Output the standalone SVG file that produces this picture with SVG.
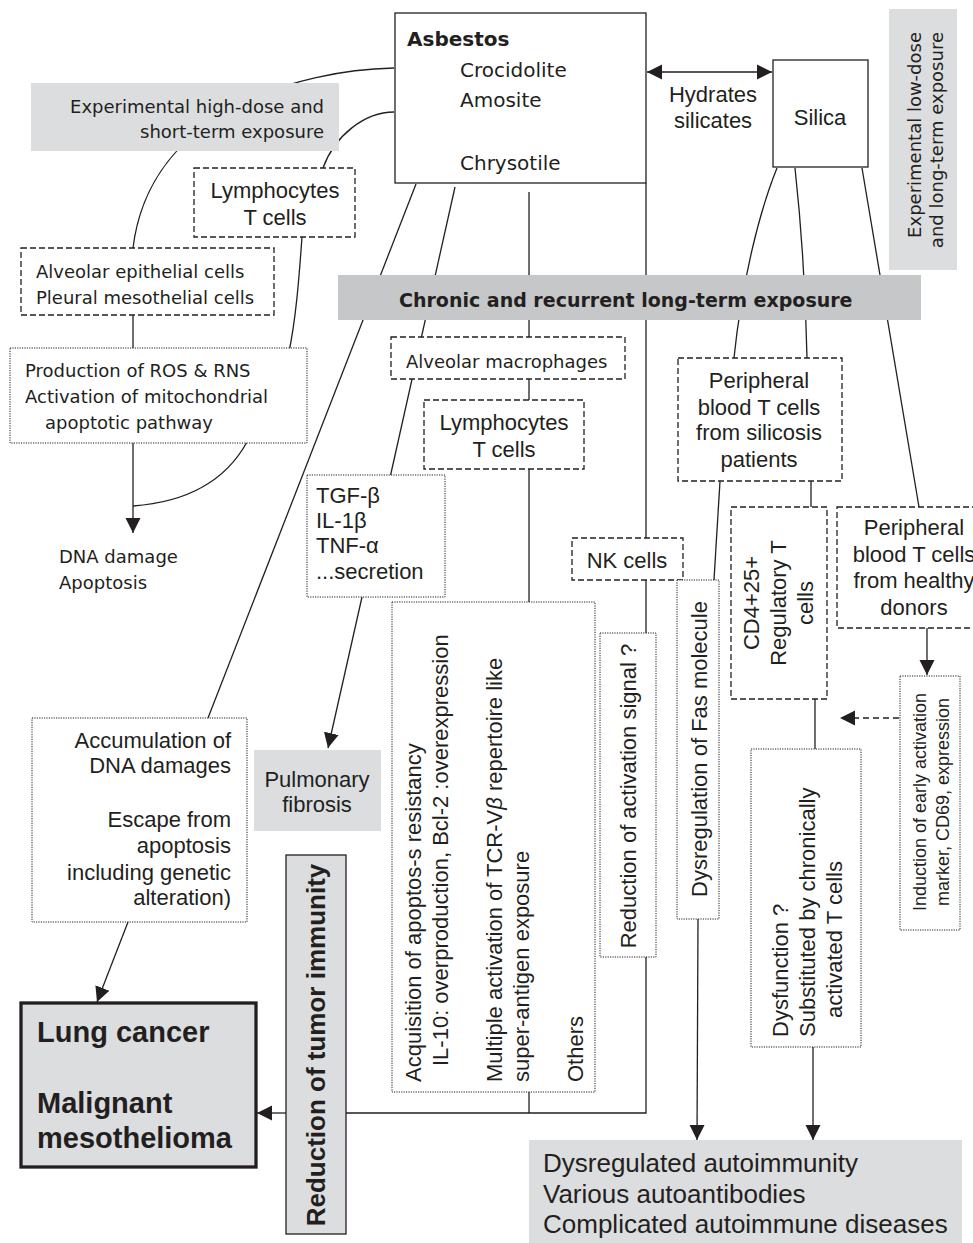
<svg xmlns="http://www.w3.org/2000/svg" width="973" height="1243" viewBox="0 0 973 1243">
<style>
.a{font-family:"Liberation Sans",Arial,sans-serif;font-size:22px;fill:#231f20}
.ab{font-family:"Liberation Sans",Arial,sans-serif;font-weight:bold;fill:#231f20}
.j{font-family:"DejaVu Sans",sans-serif;font-size:18px;fill:#231f20}
.solid{fill:#fff;stroke:#231f20;stroke-width:1.3}
.dash{fill:#fff;stroke:#231f20;stroke-width:1.3;stroke-dasharray:6 3}
.dot{fill:#fff;stroke:#231f20;stroke-width:1;stroke-dasharray:1.2 1.2}
.gray{fill:#dcdddf}
.conn{fill:none;stroke:#231f20;stroke-width:1.3}
.arr{marker-end:url(#ah)}
</style>
<defs>
<marker id="ah" markerUnits="userSpaceOnUse" markerWidth="16" markerHeight="16" viewBox="0 0 16 16" refX="15" refY="8" orient="auto-start-reverse">
<path d="M0,0.5 L15,8 L0,15.5 Z" fill="#231f20"/>
</marker>
</defs>
<rect width="973" height="1243" fill="#fff"/>
<g id="connectors">
<path class="conn" d="M394,68 C300,70 150,110 133,248"/>
<path class="conn" d="M394,112 C365,112 335,135 323,168"/>
<path class="conn" d="M302,237 C296,320 290,400 247,442 Q215,500 133,506"/>
<path class="conn" d="M133,315 L133,348"/>
<path class="conn arr" d="M133,443 L133,533"/>
<path class="conn" d="M416,184 L208,718"/>
<path class="conn" d="M455,187 L390.6,475"/>
<path class="conn" d="M529,192 L529,1113"/>
<path class="conn" d="M646,183 L646,1113 L346,1113"/>
<path class="conn arr" d="M286,1113 L257,1113"/>
<path class="conn arr" d="M362,597 L328,748"/>
<path class="conn arr" d="M128,922 L97,1002"/>
<path class="conn" d="M647,72 L772,72" marker-start="url(#ah)" marker-end="url(#ah)"/>
<path class="conn" d="M777,168 C760,210 742,280 734,358"/>
<path class="conn" d="M795,168 Q805,260 807,358"/>
<path class="conn" d="M862,168 L919,507"/>
<path class="conn" d="M720,481 L714,580"/>
<path class="conn" d="M811,481 L811,507"/>
<path class="conn arr" d="M698,919 L697,1140"/>
<path class="conn" d="M815,699 L815,749"/>
<path class="conn arr" d="M813,1047 L813,1140"/>
<path class="conn arr" d="M927,628 L927,675"/>
<path class="conn arr" d="M899,718 L840,718" stroke-dasharray="6 4"/>
</g>
<g id="asbestos">
<rect class="solid" x="395" y="13" width="251" height="170"/>
<text class="j" x="407" y="46" style="font-size:20px;font-weight:bold">Asbestos</text>
<text class="j" x="460" y="77" style="font-size:20px">Crocidolite</text>
<text class="j" x="460" y="107" style="font-size:20px">Amosite</text>
<text class="j" x="460" y="170" style="font-size:20px">Chrysotile</text>
</g>
<g id="hydrates">
<text class="a" x="713" y="102" text-anchor="middle">Hydrates</text>
<text class="a" x="713" y="128" text-anchor="middle">silicates</text>
</g>
<g id="silica">
<rect class="solid" x="773" y="60" width="95" height="107"/>
<text class="a" x="820" y="125" text-anchor="middle">Silica</text>
</g>
<g id="exp-high">
<rect class="gray" x="31" y="83" width="308" height="68"/>
<text class="j" x="324" y="113" text-anchor="end">Experimental high-dose and</text>
<text class="j" x="324" y="138" text-anchor="end">short-term exposure</text>
</g>
<g id="lymph-top">
<rect class="dash" x="194" y="168" width="161" height="69"/>
<text class="a" x="275" y="198" text-anchor="middle">Lymphocytes</text>
<text class="a" x="275" y="225" text-anchor="middle">T cells</text>
</g>
<g id="alveolar-epith">
<rect class="dash" x="21" y="248" width="253" height="67"/>
<text class="j" x="36" y="278">Alveolar epithelial cells</text>
<text class="j" x="36" y="304">Pleural mesothelial cells</text>
</g>
<g id="ros">
<rect class="dot" x="10" y="348" width="297" height="95"/>
<text class="j" x="25" y="377">Production of ROS &amp; RNS</text>
<text class="j" x="25" y="403">Activation of mitochondrial</text>
<text class="j" x="45" y="429">apoptotic pathway</text>
</g>
<g id="dna-damage">
<text class="j" x="59" y="563">DNA damage</text>
<text class="j" x="59" y="589">Apoptosis</text>
</g>
<g id="exp-low">
<rect class="gray" x="889" y="9" width="68" height="261"/>
<text class="j" transform="translate(921,32) rotate(-90)" text-anchor="end">Experimental low-dose</text>
<text class="j" transform="translate(943,32) rotate(-90)" text-anchor="end">and long-term exposure</text>
</g>
<g id="chronic">
<rect x="338" y="275" width="583" height="45" fill="#c6c7c9"/>
<text class="j" x="399" y="307" style="font-size:19px;font-weight:bold">Chronic and recurrent long-term exposure</text>
</g>
<g id="alv-macro">
<rect class="dash" x="391" y="337" width="234" height="42"/>
<text class="j" x="406" y="368">Alveolar macrophages</text>
</g>
<g id="lymph-mid">
<rect class="dash" x="424" y="400" width="160" height="69"/>
<text class="a" x="504" y="430" text-anchor="middle">Lymphocytes</text>
<text class="a" x="504" y="457" text-anchor="middle">T cells</text>
</g>
<g id="tgf">
<rect class="dot" x="307" y="475" width="138" height="122"/>
<text class="a" x="316" y="503">TGF-β</text>
<text class="a" x="316" y="528">IL-1β</text>
<text class="a" x="316" y="553">TNF-α</text>
<text class="a" x="316" y="579">...secretion</text>
</g>
<g id="pulmonary">
<rect class="gray" x="254" y="750" width="127" height="81"/>
<text class="a" x="317" y="787" text-anchor="middle">Pulmonary</text>
<text class="a" x="317" y="812" text-anchor="middle">fibrosis</text>
</g>
<g id="accumulation">
<rect class="dot" x="32" y="718" width="215" height="204"/>
<text class="a" x="231" y="748" text-anchor="end">Accumulation of</text>
<text class="a" x="231" y="773" text-anchor="end">DNA damages</text>
<text class="a" x="231" y="827" text-anchor="end">Escape from</text>
<text class="a" x="231" y="853" text-anchor="end">apoptosis</text>
<text class="a" x="231" y="880" text-anchor="end">including genetic</text>
<text class="a" x="231" y="905" text-anchor="end">alteration)</text>
</g>
<g id="lung-cancer">
<rect x="21" y="1003" width="235" height="164" fill="#dcdddf" stroke="#231f20" stroke-width="3.3"/>
<text class="ab" x="37" y="1042" style="font-size:29px">Lung cancer</text>
<text class="ab" x="37" y="1113" style="font-size:29px">Malignant</text>
<text class="ab" x="37" y="1148" style="font-size:29px">mesothelioma</text>
</g>
<g id="tumor-immunity">
<rect x="286" y="855" width="60" height="379" fill="#dcdddf" stroke="#231f20" stroke-width="1.3"/>
<text class="ab" style="font-size:26px" transform="translate(325,1045) rotate(-90)" text-anchor="middle">Reduction of tumor immunity</text>
</g>
<g id="acquisition">
<rect class="dot" x="392" y="602" width="203" height="490"/>
<text class="a" transform="translate(421,1082) rotate(-90)">Acquisition of apoptos-s resistancy</text>
<text class="a" transform="translate(448,1066) rotate(-90)">IL-10: overproduction,  Bcl-2 :overexpression</text>
<text class="a" transform="translate(502,1082) rotate(-90)">Multiple activation of TCR-V<tspan font-style="italic">β</tspan> repertoire like</text>
<text class="a" transform="translate(529,1082) rotate(-90)">super-antigen exposure</text>
<text class="a" transform="translate(583,1082) rotate(-90)">Others</text>
</g>
<g id="nk-cells">
<rect class="dash" x="572" y="538" width="111" height="42"/>
<text class="a" x="627" y="568" text-anchor="middle">NK cells</text>
</g>
<g id="reduction-activation">
<rect class="dot" x="600" y="633" width="56" height="324"/>
<text class="a" transform="translate(636,796) rotate(-90)" text-anchor="middle">Reduction of activation signal ?</text>
</g>
<g id="fas">
<rect class="dot" x="677" y="580" width="42" height="339"/>
<text class="a" transform="translate(707,749) rotate(-90)" text-anchor="middle">Dysregulation of Fas molecule</text>
</g>
<g id="pb-silicosis">
<rect class="dash" x="678" y="358" width="164" height="123"/>
<text class="a" x="759" y="388" text-anchor="middle">Peripheral</text>
<text class="a" x="759" y="415" text-anchor="middle">blood T cells</text>
<text class="a" x="759" y="440" text-anchor="middle">from silicosis</text>
<text class="a" x="759" y="467" text-anchor="middle">patients</text>
</g>
<g id="cd4">
<rect class="dash" x="731" y="507" width="96" height="192"/>
<text class="a" transform="translate(759,603) rotate(-90)" text-anchor="middle">CD4+25+</text>
<text class="a" transform="translate(786,603) rotate(-90)" text-anchor="middle">Regulatory T</text>
<text class="a" transform="translate(813,603) rotate(-90)" text-anchor="middle">cells</text>
</g>
<g id="pb-healthy">
<rect class="dash" x="837" y="507" width="150" height="121"/>
<text class="a" x="914" y="535" text-anchor="middle">Peripheral</text>
<text class="a" x="914" y="562" text-anchor="middle">blood T cells</text>
<text class="a" x="914" y="588" text-anchor="middle">from healthy</text>
<text class="a" x="914" y="615" text-anchor="middle">donors</text>
</g>
<g id="induction">
<rect class="dot" x="900" y="676" width="60" height="254"/>
<text class="a" style="font-size:18px" transform="translate(926,802) rotate(-90)" text-anchor="middle">Induction of early activation</text>
<text class="a" style="font-size:18px" transform="translate(949,802) rotate(-90)" text-anchor="middle">marker, CD69, expression</text>
</g>
<g id="dysfunction">
<rect class="dot" x="751" y="749" width="110" height="298"/>
<text class="a" transform="translate(788,1037) rotate(-90)">Dysfunction ?</text>
<text class="a" transform="translate(815,1037) rotate(-90)">Substituted by chronically</text>
<text class="a" transform="translate(842,1018) rotate(-90)">activated T cells</text>
</g>
<g id="autoimmunity">
<rect class="gray" x="529" y="1140" width="433" height="105"/>
<text class="a" x="543" y="1172" style="font-size:26px">Dysregulated autoimmunity</text>
<text class="a" x="543" y="1203" style="font-size:26px">Various autoantibodies</text>
<text class="a" x="543" y="1233" style="font-size:26px">Complicated autoimmune diseases</text>
</g>
</svg>
